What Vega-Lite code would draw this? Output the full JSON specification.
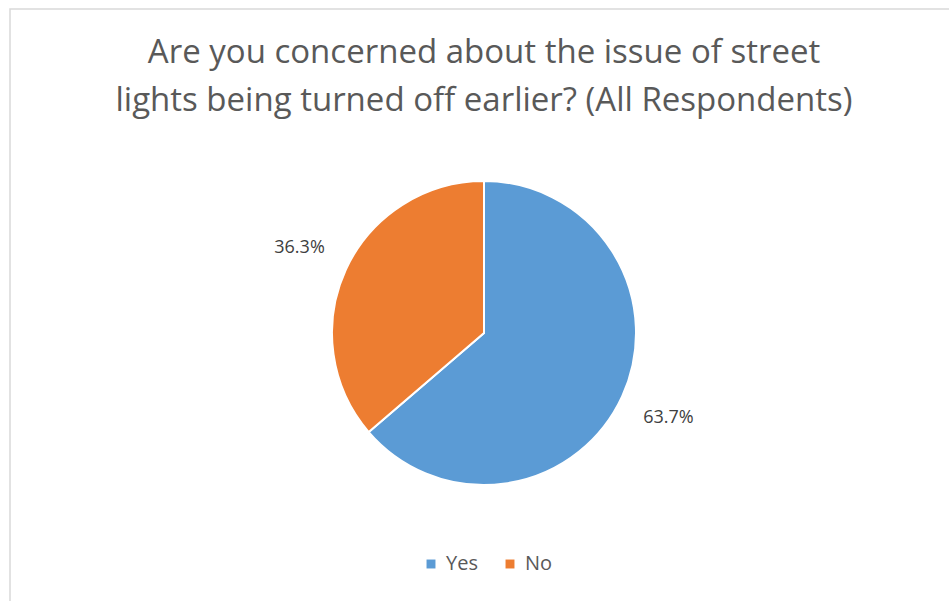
{
  "$schema": "https://vega.github.io/schema/vega-lite/v6.json",
  "autosize": {"type": "fit", "contains": "padding"},
  "width": 949,
  "height": 601,
  "padding": {"left": 9, "top": 8, "right": -10, "bottom": -57},
  "background": "white",
  "config": {
    "view": {"stroke": null},
    "font": "Open Sans"
  },
  "title": {
    "text": ["Are you concerned about the issue of street", "lights being turned off earlier? (All Respondents)"],
    "orient": "top",
    "anchor": "middle",
    "offset": -110,
    "fontSize": 33,
    "fontWeight": "normal",
    "color": "#595959",
    "lineHeight": 48,
    "font": "Open Sans"
  },
  "data": {
    "values": [
      {"answer": "Yes", "share": 63.7, "label": "63.7%", "rank": 1},
      {"answer": "No", "share": 36.3, "label": "36.3%", "rank": 2}
    ]
  },
  "layer": [
    {
      "data": {"values": [{"frame": 1}]},
      "mark": {"type": "rect", "fill": null, "stroke": "#d9d9d9", "strokeWidth": 1.5}
    },
    {
      "encoding": {
        "theta": {"field": "share", "type": "quantitative", "stack": true},
        "order": {"field": "rank", "type": "quantitative"},
        "color": {
          "field": "answer",
          "type": "nominal",
          "scale": {"domain": ["Yes", "No"], "range": ["#5b9bd5", "#ed7d31"]},
          "legend": {
            "title": null,
            "orient": "none",
            "direction": "horizontal",
            "legendX": 411,
            "legendY": 545,
            "symbolType": "square",
            "symbolSize": 80,
            "symbolStrokeWidth": 0,
            "labelFontSize": 20,
            "labelColor": "#595959",
            "labelFont": "Open Sans",
            "columnPadding": 22,
            "labelOffset": 5
          }
        }
      },
      "mark": {"type": "arc", "outerRadius": 152, "stroke": "white", "strokeWidth": 2}
    },
    {
      "encoding": {
        "theta": {"field": "share", "type": "quantitative", "stack": true},
        "order": {"field": "rank", "type": "quantitative"},
        "text": {"field": "label", "type": "nominal"}
      },
      "mark": {"type": "text", "radius": 203, "fontSize": 18, "color": "#404040", "font": "Open Sans"}
    }
  ]
}
